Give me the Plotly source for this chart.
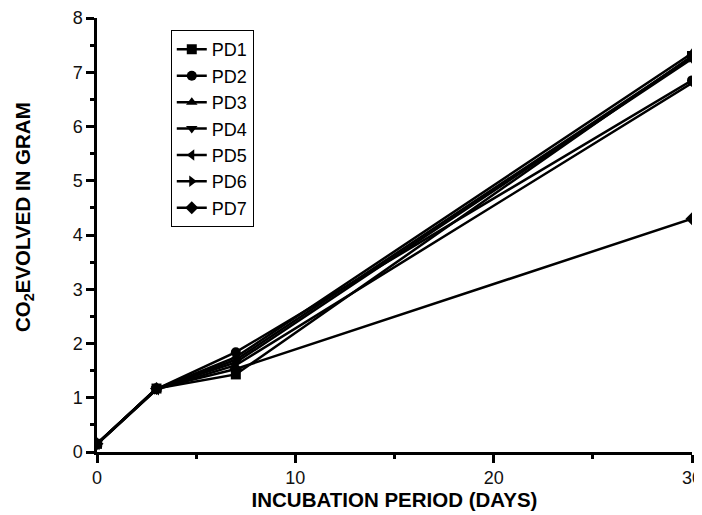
import plotly.graph_objects as go

days = [0, 3, 7, 30]
series_names = ["PD1", "PD2", "PD3", "PD4", "PD5", "PD6", "PD7"]
pd1 = [0.15, 1.17, 1.43, 7.30]
pd2 = [0.15, 1.16, 1.84, 6.85]
pd3 = [0.15, 1.16, 1.75, 7.35]
pd4 = [0.15, 1.17, 1.65, 7.25]
pd5 = [0.14, 1.15, 1.60, 6.80]
pd6 = [0.16, 1.16, 1.70, 7.28]
pd7 = [0.15, 1.17, 1.53, 4.30]
values = [pd1, pd2, pd3, pd4, pd5, pd6, pd7]
symbols = ["square", "circle", "triangle-up", "triangle-down",
           "triangle-left", "triangle-right", "diamond"]

fig = go.Figure()
for name, vals, sym in zip(series_names, values, symbols):
    fig.add_trace(go.Scatter(
        x=days, y=vals, name=name, mode="lines+markers",
        line=dict(color="black", width=2.5),
        marker=dict(symbol=sym, size=10, color="black"),
    ))

FONT = "Liberation Sans, Arial, sans-serif"
axis_common = dict(
    showline=True, linecolor="black", linewidth=2.5,
    ticks="outside", tickcolor="black", tickwidth=2.5, ticklen=8,
    showgrid=False, zeroline=False, automargin=False,
    tickfont=dict(family=FONT, size=18, color="#111111"),
)

# page has an 8px body margin; plot area placed to match the reference window
fig.update_layout(
    width=702, height=507,
    margin=dict(l=89, r=18, t=10, b=63),
    paper_bgcolor="white", plot_bgcolor="white",
    font=dict(family=FONT, color="black"),
    xaxis=dict(
        range=[0, 30], tickvals=[0, 10, 20, 30],
        minor=dict(tickvals=[5, 15, 25], ticks="outside", ticklen=4,
                   tickwidth=2.5, tickcolor="black"),
        title=dict(text="<b>INCUBATION PERIOD (DAYS)</b>",
                   font=dict(family=FONT, size=20.5, color="black"), standoff=3),
        **axis_common,
    ),
    yaxis=dict(
        range=[0, 8], tickvals=[0, 1, 2, 3, 4, 5, 6, 7, 8],
        minor=dict(tickvals=[0.5, 1.5, 2.5, 3.5, 4.5, 5.5, 6.5, 7.5],
                   ticks="outside", ticklen=4, tickwidth=2.5, tickcolor="black"),
        **axis_common,
    ),
    annotations=[dict(
        text="<b>CO<sub>2</sub>EVOLVED IN GRAM</b>",
        xref="paper", yref="paper", x=-0.1227, y=0.5415,
        xanchor="center", yanchor="middle", textangle=-90, showarrow=False,
        font=dict(family=FONT, size=20.5, color="black"),
    )],
    legend=dict(
        x=0.124, y=0.972, xanchor="left", yanchor="top",
        bordercolor="black", borderwidth=1, bgcolor="white",
        font=dict(family=FONT, size=18, color="black"),
        tracegroupgap=0, entrywidth=90, entrywidthmode="pixels",
    ),
    showlegend=True,
)

fig.write_html("out.html")
